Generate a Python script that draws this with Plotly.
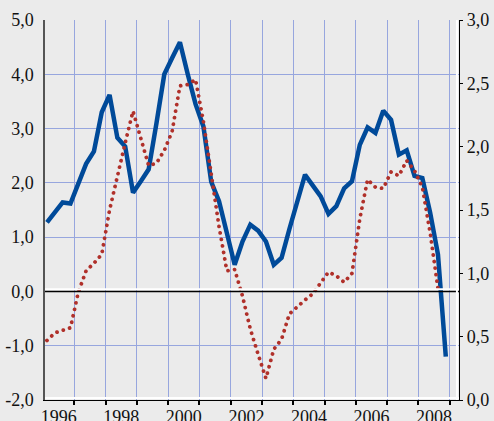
import plotly.graph_objects as go

# Quarterly periods 1996Q1 .. 2008Q4, plotted at mid-quarter
periods = [f"{y}Q{q}" for y in range(1996, 2009) for q in range(1, 5)]
t = [int(p[:4]) + (int(p[-1]) - 0.5) / 4 for p in periods]

# Left-axis series (solid blue)
blue = [1.27, 1.45, 1.64, 1.62, 1.98, 2.35, 2.58, 3.30, 3.62, 2.83,
        2.67, 1.82, 2.03, 2.25, 3.10, 4.00, 4.30, 4.59, 4.00, 3.45,
        3.04, 2.02, 1.66, 1.10, 0.49, 0.92, 1.23, 1.12, 0.92, 0.49,
        0.62, 1.15, 1.65, 2.15, 1.95, 1.75, 1.43, 1.57, 1.90, 2.03,
        2.70, 3.02, 2.92, 3.33, 3.16, 2.52, 2.60, 2.13, 2.09, 1.45,
        0.68, -1.20]

# Right-axis series (dotted red), through 2008Q3
red = [0.47, 0.53, 0.55, 0.57, 0.85, 1.02, 1.08, 1.15, 1.50, 1.78,
       2.03, 2.28, 2.07, 1.85, 1.87, 1.97, 2.12, 2.48, 2.49, 2.53,
       2.20, 1.80, 1.37, 1.02, 1.03, 0.82, 0.56, 0.36, 0.17, 0.40,
       0.48, 0.68, 0.74, 0.79, 0.84, 0.93, 1.01, 0.98, 0.93, 1.00,
       1.43, 1.74, 1.68, 1.67, 1.80, 1.77, 1.89, 1.81, 1.68, 1.32,
       0.88]

left_ticks = [-2, -1, 0, 1, 2, 3, 4, 5]
left_text = ["-2,0", "-1,0", "0,0", "1,0", "2,0", "3,0", "4,0", "5,0"]
right_ticks = [0, 0.5, 1.0, 1.5, 2.0, 2.5, 3.0]
right_text = ["0,0", "0,5", "1,0", "1,5", "2,0", "2,5", "3,0"]
year_bounds = list(range(1997, 2010))
year_labels = ["1996", "1998", "2000", "2002", "2004", "2006", "2008"]

BG = "#ebebeb"
GRID = "#97a6de"
FONT = "Liberation Serif"

fig = go.Figure()
fig.add_trace(go.Scatter(x=t, y=blue, mode="lines", yaxis="y",
                         line=dict(color="#004a99", width=4.5),
                         hoverinfo="skip", showlegend=False))
fig.add_trace(go.Scatter(x=t[:len(red)], y=red, mode="lines", yaxis="y2",
                         line=dict(color="#b0302a", width=3.8, dash="dot"),
                         hoverinfo="skip", showlegend=False))

fig.update_layout(
    width=494, height=421,
    margin=dict(l=45, r=35, t=20, b=21),
    paper_bgcolor=BG, plot_bgcolor=BG,
    font=dict(family=FONT, size=18, color="#111"),
    xaxis=dict(
        range=[1996.061, 2009.297], automargin=False,
        tickvals=[int(y) + 0.5 for y in year_labels],
        ticktext=year_labels,
        ticks="", showgrid=False, zeroline=False,
        showline=True, linecolor="black", linewidth=1.2,
        minor=dict(tickvals=year_bounds, ticks="outside", ticklen=4,
                   tickcolor="black", tickwidth=1.5,
                   showgrid=True, gridcolor=GRID, gridwidth=1),
    ),
    yaxis=dict(
        range=[-2, 5], automargin=False,
        tickvals=left_ticks, ticktext=left_text,
        showgrid=True, gridcolor=GRID, gridwidth=1,
        zeroline=False, showline=True, linecolor="#555", linewidth=1.5,
        ticks="outside", ticklen=6, tickcolor="rgba(0,0,0,0)",
    ),
    yaxis2=dict(
        range=[0, 3], automargin=False,
        tickvals=right_ticks, ticktext=right_text,
        overlaying="y", side="right", showgrid=False, zeroline=False,
        showline=True, linecolor="black", linewidth=1.2,
        ticks="outside", ticklen=3, tickcolor="black",
    ),
    shapes=[
        # zero line of the left scale, with a white rule just above it
        dict(type="line", xref="paper", x0=0, x1=1, yref="y", y0=0.04, y1=0.04,
             line=dict(color="white", width=2)),
        dict(type="line", xref="paper", x0=0, x1=1, yref="y", y0=0, y1=0,
             line=dict(color="black", width=1.5)),
        # white inner edges along the bottom and right frame
        dict(type="line", xref="paper", x0=0, x1=1, yref="paper", y0=0.005, y1=0.005,
             line=dict(color="white", width=2)),
        dict(type="line", xref="paper", x0=0.995, x1=0.995, yref="paper", y0=0, y1=1,
             line=dict(color="white", width=2)),
    ],
)

# Round dots for the dotted series
round_dots = """
var gd = document.getElementById('{plot_id}');
var traces = gd.querySelectorAll('.scatterlayer .trace');
if (traces.length > 1) {
  traces[1].querySelectorAll('path.js-line').forEach(function (p) {
    p.style.strokeLinecap = 'round';
    p.style.strokeDasharray = '0.01px,6.6px';
  });
}
"""

fig.write_html("out.html", post_script=round_dots)
